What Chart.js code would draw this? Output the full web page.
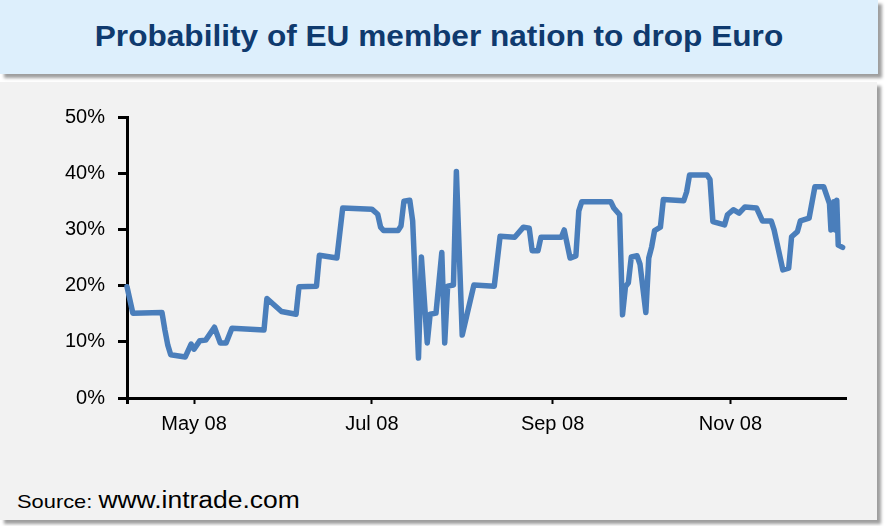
<!DOCTYPE html>
<html>
<head>
<meta charset="utf-8">
<script src="https://cdn.jsdelivr.net/npm/chart.js@4.4.1/dist/chart.umd.min.js"></script>
<style>
  html, body { margin: 0; padding: 0; background: #ffffff; }
  body { width: 885px; height: 526px; position: relative; overflow: hidden; font-family: "Liberation Sans", Arial, sans-serif; }
  #titleBox { position: absolute; left: 0; top: 0; width: 878px; height: 74px; background: #DDEFFC;
    box-shadow: 4px 4px 3px rgba(0,0,0,0.38); }
  #title { position: absolute; left: 0; top: 22px; width: 878px; text-align: center; font-weight: bold;
    font-size: 29px; line-height: 29px; color: #0F3A6E; transform: scaleX(1.09); transform-origin: 439px 0; white-space: nowrap; }
  #panel { position: absolute; left: 0; top: 82px; width: 877px; height: 438px; background: #F2F2F2;
    box-shadow: 4px 4px 3px rgba(0,0,0,0.38); }
  #source { position: absolute; left: 17px; top: 488px; white-space: nowrap; color: #000; line-height: 24px;
    transform: scaleX(1.15); transform-origin: 0 0; }
  #source .a { font-size: 19px; }
  #source .b { font-size: 23px; }
  #wrap { position: absolute; left: 0; top: 0; width: 885px; height: 526px; }
</style>
</head>
<body>
<div id="titleBox"></div>
<div id="title">Probability of EU member nation to drop Euro</div>
<div id="panel"></div>
<div id="source"><span class="a">Source: </span><span class="b">www.intrade.com</span></div>
<div id="wrap"><canvas id="c" width="885" height="526"></canvas></div>
<script>
// ---- data ----
const dates = [
  '2008-04-08','2008-04-10','2008-04-20','2008-04-21','2008-04-22','2008-04-23','2008-04-28','2008-04-30',
  '2008-05-01','2008-05-03','2008-05-05','2008-05-08','2008-05-10','2008-05-12','2008-05-14','2008-05-25',
  '2008-05-26','2008-05-31','2008-06-05','2008-06-06','2008-06-12','2008-06-13','2008-06-19','2008-06-21',
  '2008-07-01','2008-07-03','2008-07-04','2008-07-05','2008-07-10','2008-07-11','2008-07-12','2008-07-14',
  '2008-07-15','2008-07-17','2008-07-18','2008-07-20','2008-07-21','2008-07-23','2008-07-25','2008-07-26',
  '2008-07-27','2008-07-29','2008-07-30','2008-08-01','2008-08-05','2008-08-12','2008-08-14','2008-08-19',
  '2008-08-22','2008-08-24','2008-08-25','2008-08-27','2008-08-28','2008-09-04','2008-09-05','2008-09-07',
  '2008-09-09','2008-09-10','2008-09-11','2008-09-21','2008-09-22','2008-09-24','2008-09-25','2008-09-26',
  '2008-09-27','2008-09-28','2008-09-30','2008-10-01','2008-10-03','2008-10-04','2008-10-05','2008-10-06',
  '2008-10-08','2008-10-09','2008-10-16','2008-10-17','2008-10-18','2008-10-24','2008-10-25','2008-10-26',
  '2008-10-30','2008-10-31','2008-11-02','2008-11-04','2008-11-06','2008-11-10','2008-11-12','2008-11-15',
  '2008-11-16','2008-11-19','2008-11-21','2008-11-22','2008-11-24','2008-11-25','2008-11-28','2008-11-30',
  '2008-12-03','2008-12-05','2008-12-05T12:00','2008-12-06T12:00','2008-12-07','2008-12-07T12:00','2008-12-08','2008-12-09T12:00'
];
const probability = [
  19.8, 15.1, 15.2, 12.1, 9.4, 7.7, 7.3, 9.6,
  8.7, 10.2, 10.3, 12.6, 9.8, 9.8, 12.4, 12.1,
  17.7, 15.4, 14.9, 19.8, 19.9, 25.4, 24.9, 33.8,
  33.6, 32.7, 30.4, 29.8, 29.8, 30.6, 35.0, 35.2,
  31.5, 7.1, 25.1, 9.8, 14.9, 15.1, 25.9, 9.8,
  19.9, 20.1, 40.3, 11.2, 20.1, 19.9, 28.8, 28.6,
  30.4, 30.2, 26.2, 26.2, 28.6, 28.6, 29.9, 24.9,
  25.3, 33.3, 34.9, 34.9, 33.8, 32.6, 14.8, 19.8,
  20.5, 25.1, 25.3, 23.8, 15.2, 24.9, 26.9, 29.8,
  30.4, 35.3, 35.1, 36.7, 39.7, 39.7, 38.9, 31.4,
  30.8, 32.6, 33.5, 32.9, 34.0, 33.8, 31.5, 31.5,
  29.9, 22.8, 23.1, 28.7, 29.6, 31.5, 32.0, 37.6,
  37.6, 34.6, 29.9, 34.9, 29.9, 35.2, 27.2, 26.8
];
const xRange = ['2008-04-08', '2008-12-10T16:00'];
const xTickDates = ['2008-04-08', '2008-05-01', '2008-07-01', '2008-09-01', '2008-11-01'];
const xTickLabels = ['', 'May 08', 'Jul 08', 'Sep 08', 'Nov 08'];
const yTicks = [0, 10, 20, 30, 40, 50];

// ---- helpers ----
function toDay(s) {
  const iso = s.length === 10 ? s + 'T00:00:00Z' : s + ':00Z';
  return Date.parse(iso) / 86400000;
}
const xTickVals = xTickDates.map(toDay);
const points = dates.map((d, i) => ({ x: toDay(d), y: probability[i] }));

const FONT = "'Liberation Sans', Arial, sans-serif";

new Chart(document.getElementById('c'), {
  type: 'line',
  data: {
    datasets: [{
      data: points,
      borderColor: '#4A7EBB',
      borderWidth: 5.5,
      pointRadius: 0,
      tension: 0,
      borderJoinStyle: 'round',
      borderCapStyle: 'round',
      fill: false,
      clip: false
    }]
  },
  options: {
    responsive: false,
    animation: false,
    events: [],
    layout: { padding: { top: 117, right: 39, bottom: 88, left: 0 } },
    plugins: { legend: { display: false }, tooltip: { enabled: false }, title: { display: false } },
    scales: {
      x: {
        type: 'linear',
        min: toDay(xRange[0]),
        max: toDay(xRange[1]),
        afterFit: (s) => { s.height = 40; },
        afterBuildTicks: (s) => { s.ticks = xTickVals.map(v => ({ value: v })); },
        ticks: {
          autoSkip: false,
          maxRotation: 0,
          padding: 8,
          color: '#000',
          font: { family: FONT, size: 20 },
          callback: (v) => { const i = xTickVals.indexOf(v); return i >= 0 ? xTickLabels[i] : ''; }
        },
        grid: { display: true, drawOnChartArea: false, drawTicks: true, tickLength: 6,
                tickWidth: (ctx) => ctx.index === 0 ? 3 : 2, tickColor: '#000' },
        border: { display: true, color: '#000', width: 3 }
      },
      y: {
        type: 'linear',
        min: 0,
        max: 50,
        afterFit: (s) => { s.width = 127; },
        afterBuildTicks: (s) => { s.ticks = yTicks.map(v => ({ value: v })); },
        ticks: {
          padding: 13,
          color: '#000',
          font: { family: FONT, size: 20 },
          callback: (v) => v + '%'
        },
        grid: { display: true, drawOnChartArea: false, drawTicks: true, tickLength: 9, tickWidth: 3, tickColor: '#000' },
        border: { display: true, color: '#000', width: 3 }
      }
    }
  }
});
</script>
</body>
</html>
